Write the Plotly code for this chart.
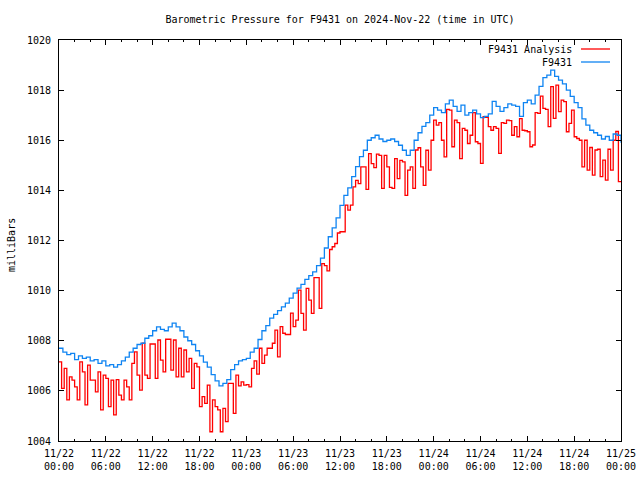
import pandas as pd
import plotly.graph_objects as go

# ---- data ----
start_time = "2024-11-22 00:00"
end_time = "2024-11-25 00:00"

# station F9431 pressure (mb), every 30 min
station_values = [
    1007.70, 1007.55, 1007.45, 1007.50, 1007.25, 1007.40, 1007.30, 1007.35, 1007.20, 1007.25,
    1007.10, 1007.20, 1007.00, 1007.05, 1006.95, 1007.05, 1007.20, 1007.35, 1007.55, 1007.70,
    1007.85, 1007.90, 1008.10, 1008.20, 1008.40, 1008.55, 1008.45, 1008.40, 1008.55, 1008.70,
    1008.55, 1008.40, 1008.15, 1008.00, 1007.85, 1007.60, 1007.40, 1007.15, 1006.95, 1006.65,
    1006.40, 1006.20, 1006.30, 1006.45, 1006.85, 1007.05, 1007.20, 1007.25, 1007.30, 1007.55,
    1007.70, 1008.05, 1008.40, 1008.60, 1008.90, 1009.05, 1009.20, 1009.35, 1009.50, 1009.70,
    1009.90, 1010.10, 1010.25, 1010.45, 1010.60, 1010.75, 1011.00, 1011.30, 1011.70, 1012.15,
    1012.50, 1012.90, 1013.40, 1013.80, 1014.10, 1014.55, 1014.95, 1015.35, 1015.60, 1016.00,
    1016.10, 1016.20, 1016.05, 1015.95, 1016.00, 1016.05, 1015.95, 1015.80, 1015.60, 1015.40,
    1015.60, 1016.00, 1016.30, 1016.55, 1016.70, 1017.00, 1017.30, 1017.20, 1017.10, 1017.45,
    1017.60, 1017.35, 1017.15, 1017.40, 1017.00, 1017.10, 1017.20, 1017.05, 1016.90, 1016.95,
    1017.05, 1017.55, 1017.35, 1017.15, 1017.30, 1017.45, 1017.40, 1017.35, 1016.95, 1017.50,
    1017.60, 1017.45, 1017.80, 1018.15, 1018.50, 1018.60, 1018.80, 1018.55, 1018.40, 1018.25,
    1018.00, 1017.75, 1017.50, 1017.30, 1016.85, 1016.60, 1016.40, 1016.30, 1016.20, 1016.05,
    1016.15, 1016.00, 1016.25, 1016.20, 1015.90,
]

# analysis pressure (mb), every 20 min
analysis_values = [
    1007.16, 1006.10, 1006.90, 1005.64, 1006.56, 1006.43, 1006.16, 1005.64, 1007.16, 1006.76,
    1005.44, 1007.03, 1006.43, 1006.43, 1005.96, 1006.76, 1005.24, 1006.63, 1006.50, 1005.37,
    1006.43, 1005.04, 1006.45, 1005.83, 1005.64, 1006.43, 1006.16, 1005.64, 1007.10, 1007.56,
    1006.63, 1006.03, 1007.90, 1006.63, 1006.50, 1007.87, 1007.87, 1006.50, 1008.03, 1007.23,
    1006.76, 1008.06, 1008.06, 1006.83, 1008.03, 1006.56, 1007.70, 1006.56, 1007.63, 1006.76,
    1007.30, 1006.10, 1007.10, 1006.96, 1005.37, 1005.77, 1005.50, 1006.23, 1004.37, 1005.64,
    1005.37, 1005.24, 1004.37, 1005.30, 1004.77, 1006.30, 1006.30, 1005.10, 1006.63, 1006.20,
    1006.36, 1006.23, 1006.25, 1006.16, 1006.90, 1007.20, 1006.67, 1007.70, 1007.10, 1007.43,
    1007.70, 1007.70, 1007.90, 1008.42, 1007.36, 1008.56, 1008.30, 1008.25, 1008.25, 1009.10,
    1008.56, 1008.82, 1010.02, 1009.09, 1008.42, 1010.09, 1009.62, 1009.09, 1010.52, 1010.52,
    1009.29, 1011.08, 1011.00, 1010.79, 1011.64, 1011.75, 1011.88, 1012.30, 1012.35, 1012.35,
    1013.41, 1013.21, 1013.41, 1014.14, 1014.40, 1014.27, 1014.94, 1014.94, 1014.04, 1015.47,
    1015.07, 1014.91, 1015.45, 1015.40, 1014.08, 1015.40, 1014.94, 1014.12, 1014.08, 1015.27,
    1014.47, 1015.20, 1015.14, 1013.80, 1014.81, 1014.94, 1014.08, 1015.61, 1015.70, 1014.94,
    1014.20, 1015.60, 1014.81, 1016.00, 1016.80, 1016.60, 1016.70, 1016.00, 1015.34, 1017.23,
    1017.20, 1015.74, 1016.80, 1016.70, 1015.27, 1016.47, 1016.40, 1015.87, 1016.20, 1017.10,
    1015.94, 1015.87, 1015.08, 1016.94, 1016.91, 1016.54, 1016.40, 1016.54, 1016.47, 1015.48,
    1016.70, 1016.67, 1016.80, 1016.78, 1016.20, 1016.54, 1016.14, 1016.86, 1016.40, 1016.38,
    1016.34, 1015.74, 1015.81, 1017.10, 1017.07, 1017.76, 1017.27, 1017.23, 1016.54, 1018.14,
    1016.87, 1018.20, 1017.14, 1017.60, 1017.54, 1016.34, 1016.67, 1017.20, 1016.14, 1016.07,
    1016.00, 1014.94, 1016.00, 1014.81, 1015.71, 1014.61, 1015.61, 1015.64, 1014.55, 1015.21,
    1014.41, 1015.64, 1014.81, 1016.00, 1016.35, 1014.35, 1014.35,
]

tick_times = ["2024-11-22 00:00", "2024-11-22 06:00", "2024-11-22 12:00", "2024-11-22 18:00",
              "2024-11-23 00:00", "2024-11-23 06:00", "2024-11-23 12:00", "2024-11-23 18:00",
              "2024-11-24 00:00", "2024-11-24 06:00", "2024-11-24 12:00", "2024-11-24 18:00",
              "2024-11-25 00:00"]
tick_labels = ["11/22<br>00:00", "11/22<br>06:00", "11/22<br>12:00", "11/22<br>18:00",
               "11/23<br>00:00", "11/23<br>06:00", "11/23<br>12:00", "11/23<br>18:00",
               "11/24<br>00:00", "11/24<br>06:00", "11/24<br>12:00", "11/24<br>18:00",
               "11/25<br>00:00"]
y_ticks = [1004, 1006, 1008, 1010, 1012, 1014, 1016, 1018, 1020]

series_names = ["F9431 Analysis", "F9431"]
series_colors = ["#ff0000", "#0f84f2"]

station_times = pd.date_range(start_time, periods=len(station_values), freq="30min")
analysis_times = pd.date_range(start_time, periods=len(analysis_values), freq="20min")

FONT = "DejaVu Sans Mono"

fig = go.Figure()
fig.add_trace(go.Scatter(x=analysis_times, y=analysis_values, mode="lines",
                         line=dict(color=series_colors[0], width=1.3, shape="hv"),
                         name=series_names[0], showlegend=False))
fig.add_trace(go.Scatter(x=station_times, y=station_values, mode="lines",
                         line=dict(color=series_colors[1], width=1.3, shape="hv"),
                         name=series_names[1], showlegend=False))

# gnuplot-style legend (right-justified text, sample on the right)
L, R, T, B = 59, 19, 40, 39
pw, ph = 640 - L - R, 480 - T - B
def px(x):
    return (x - L) / pw
def py(y):
    return (480 - B - y) / ph

for i, (nm, col) in enumerate(zip(series_names, series_colors)):
    yy = 49 + 13 * i
    fig.add_annotation(x=px(574), y=py(yy), xref="paper", yref="paper", text=nm,
                       showarrow=False, xanchor="right", yanchor="middle",
                       font=dict(family=FONT, size=10, color="black"))
    fig.add_shape(type="line", xref="paper", yref="paper", x0=px(581), x1=px(610),
                  y0=py(yy), y1=py(yy), line=dict(color=col, width=1.3))

fig.add_annotation(x=px(11), y=py(245), xref="paper", yref="paper", text="milliBars",
                   showarrow=False, textangle=-90, xanchor="center", yanchor="middle",
                   font=dict(family=FONT, size=10, color="black"))

fig.update_layout(
    width=640, height=480,
    margin=dict(l=L, r=R, t=T, b=B, autoexpand=False),
    paper_bgcolor="white", plot_bgcolor="white",
    font=dict(family=FONT, size=10, color="black"),
    title=dict(text="Barometric Pressure for F9431 on 2024-Nov-22 (time in UTC)",
               x=0.5, xref="paper", y=1 - 19 / 480, yanchor="middle", automargin=False,
               font=dict(family=FONT, size=10, color="black")),
    showlegend=False,
)
fig.update_xaxes(range=[start_time, end_time], tickvals=tick_times, ticktext=tick_labels,
                 automargin=False,
                 showgrid=False, zeroline=False, showline=True, linecolor="black", linewidth=1,
                 mirror="allticks", ticks="inside", ticklen=5, tickcolor="black", tickwidth=1,
                 ticklabelstandoff=3,
                 minor=dict(ticks="inside", ticklen=2, dtick=2 * 3600 * 1000,
                            tickcolor="black", showgrid=False),
                 tickfont=dict(family=FONT, size=10, color="black"))
fig.update_yaxes(range=[1004, 1020], tickvals=y_ticks, automargin=False,
                 showgrid=False, zeroline=False, showline=True, linecolor="black", linewidth=1,
                 mirror="allticks", ticks="inside", ticklen=5, tickcolor="black", tickwidth=1,
                 ticklabelstandoff=5,
                 tickfont=dict(family=FONT, size=10, color="black"))

fig.write_html("out.html", config={"displayModeBar": False},
               post_script="document.body.style.margin='0px';document.body.style.padding='0px';")
